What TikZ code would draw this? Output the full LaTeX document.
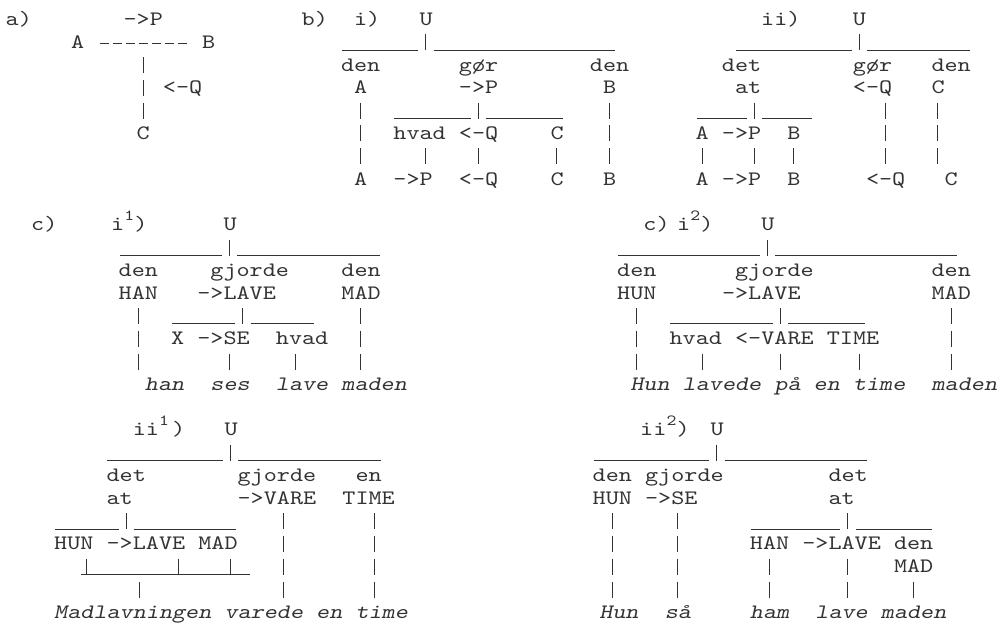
\documentclass[tikz,border=0pt]{standalone}
\usepackage{fontspec}
\setmonofont{lmmono10-regular.otf}[FakeStretch=1.2174,ItalicFont=lmmonoslant10-regular.otf]
\usetikzlibrary{calc}
\definecolor{ink}{gray}{0.2}
\newcommand\tfont{\ttfamily\fontsize{20.5}{22.8}\selectfont}
\newcommand\supfnt{\ttfamily\fontsize{15.5}{16}\selectfont}
\def\cw{13.1}\def\lh{22.8}\def\yz{25.5}
\newcommand\tW[4]{\node[T] (#1) at ({\ox+(#2)*\cw},{\yz+(#3)*\lh}) {#4};}
\newcommand\tWI[4]{\node[T,font=\tfont\itshape] (#1) at ({\ox+(#2)*\cw},{\yz+(#3)*\lh}) {#4};}
\newcommand\tWA[4]{\node[T] (#1) at ({#2},{\yz+(#3)*\lh}) {#4};}
\newcommand\tSUP[4]{\node[T,font=\supfnt] (#1) at ({#2},{\yz+(#3)*\lh-10}) {#4};}
\newcommand\tVB[3]{\draw[vbar] ($(#1.base west)+({(#2+0.5)*\cw},{\lh-14})$) -- ++(0,{(#3-1)*\lh+16});}
\newcommand\tVBu[3]{\draw[vbar] ($(#1.base west)+({(#2+0.5)*\cw},{2-\lh})$) -- ++(0,{-((#3-1)*\lh+16)});}
\newcommand\tUL[4]{\coordinate (#1a) at ({\ox+(#2)*\cw+1},{\yz+(#4)*\lh+2});
  \coordinate (#1b) at ({\ox+(#3+1)*\cw-1},{\yz+(#4)*\lh+2});
  \draw[ul] (#1a) -- (#1b);}
\begin{document}
\begin{tikzpicture}[x=1pt,y=-1pt,
  T/.style={font=\tfont, inner sep=0pt, anchor=base west, text=ink},
  vbar/.style={draw=ink, line width=1pt, dash pattern=on 16pt off 6.8pt},
  ul/.style={draw=ink, line width=1.1pt},
  hyph/.style={draw=ink, line width=1.3pt, dash pattern=on 9pt off 4.1pt}]
\fill[white] (0,0) rectangle (1004,623);
\useasboundingbox (0,0) rectangle (1004,623);

% ---------------- a)
\def\ox{5.5}
\tW{aLab}{0}{0}{a)}
\tW{aP}{9}{0}{->P}
\tW{aA}{5}{1}{A}
\tW{aB}{15}{1}{B}
\draw[hyph] ($(aA.base east)+({\cw+2},-5)$) -- ($(aB.base west)+({-\cw-2},-5)$);
\tW{aQ}{12}{3}{<-Q}
\tW{aC}{10}{5}{C}
\tVBu{aC}{0}{3}

% ---------------- b) i)
\def\ox{301.5}
\tW{bLab}{0}{0}{b)}
\tW{biLab}{4}{0}{i)}
\tW{biU}{9}{0}{U}
\tVB{biU}{0}{1}
\tUL{biLa}{3}{8}{1}
\tUL{biRa}{10}{23}{1}
\tW{biden1}{3}{2}{den}
\tW{bigor}{12}{2}{gør}
\tW{biden2}{22}{2}{den}
\tW{biA}{4}{3}{A}
\tW{biP}{12}{3}{->P}
\tW{biB}{23}{3}{B}
\tVB{biA}{0}{3}
\tVB{biP}{1}{1}
\tVB{biB}{0}{3}
\tUL{biLb}{7}{12}{4}
\tUL{biRb}{14}{19}{4}
\tW{bihvad}{7}{5}{hvad}
\tW{biQ}{12}{5}{<-Q}
\tW{biC}{19}{5}{C}
\tVB{bihvad}{2}{1}
\tVB{biQ}{1}{1}
\tVB{biC}{0}{1}
\tW{biA2}{4}{7}{A}
\tW{biP2}{7}{7}{->P}
\tW{biQ2}{12}{7}{<-Q}
\tW{biC2}{19}{7}{C}
\tW{biB2}{23}{7}{B}

% ---------------- b) ii)
\def\ox{695.5}
\tW{biiLab}{5}{0}{ii)}
\tW{biiU}{12}{0}{U}
\tVB{biiU}{0}{1}
\tUL{biiLa}{3}{11}{1}
\tUL{biiRa}{13}{20}{1}
\tW{biidet}{2}{2}{det}
\tW{biigor}{12}{2}{gør}
\tW{biiden}{18}{2}{den}
\tW{biiat}{3}{3}{at}
\tW{biiQ}{12}{3}{<-Q}
\tW{biiC}{18}{3}{C}
\tVB{biiat}{1}{1}
\tUL{biiLb}{0}{3}{4}
\tUL{biiRb}{5}{8}{4}
\tVB{biiQ}{2}{3}
\tVB{biiC}{0}{3}
\tW{biiA}{0}{5}{A}
\tW{biiP}{2}{5}{->P}
\tW{biiB}{7}{5}{B}
\tVB{biiA}{0}{1}
\tVB{biiP}{2}{1}
\tVB{biiB}{0}{1}
\tW{biiA2}{0}{7}{A}
\tW{biiP2}{2}{7}{->P}
\tW{biiB2}{7}{7}{B}
\tW{biiQ2}{13}{7}{<-Q}
\tW{biiC2}{19}{7}{C}

% ---------------- c) i1)
\def\ox{118.5}
\tWA{ciLab}{31}{9}{c)}
\tWA{ciI}{111}{9}{i}
\tSUP{ciS}{124.2}{9}{1}
\tWA{ciPar}{134.2}{9}{)}
\tW{ciU}{8}{9}{U}
\tVB{ciU}{0}{1}
\tUL{ciLa}{0}{7}{10}
\tUL{ciRa}{9}{19}{10}
\tW{cid1}{0}{11}{den}
\tW{cigj}{7}{11}{gjorde}
\tW{cid2}{17}{11}{den}
\tW{ciHAN}{0}{12}{HAN}
\tW{ciLAVE}{6}{12}{->LAVE}
\tW{ciMAD}{17}{12}{MAD}
\tVB{ciHAN}{1}{3}
\tVB{ciLAVE}{3}{1}
\tVB{ciMAD}{1}{3}
\tUL{ciLb}{4}{8}{13}
\tUL{ciRb}{10}{14}{13}
\tW{ciX}{4}{14}{X}
\tW{ciSE}{6}{14}{->SE}
\tW{cihvad}{12}{14}{hvad}
\tVB{ciSE}{2}{1}
\tVB{cihvad}{1}{1}
\tWI{cihan}{2}{16}{han}
\tWI{cises}{7}{16}{ses}
\tWI{cilave}{12}{16}{lave}
\tWI{cimaden}{17}{16}{maden}

% ---------------- c) i2)
\def\ox{617}
\tW{ciiLab}{2}{9}{c)}
\tWA{ciiI}{677}{9}{i}
\tSUP{ciiS}{690.2}{9}{2}
\tWA{ciiPar}{700.2}{9}{)}
\tW{ciiU}{11}{9}{U}
\tVB{ciiU}{0}{1}
\tUL{ciiLa}{0}{10}{10}
\tUL{ciiRa}{12}{25}{10}
\tW{ciid1}{0}{11}{den}
\tW{ciigj}{9}{11}{gjorde}
\tW{ciid2}{24}{11}{den}
\tW{ciiHUN}{0}{12}{HUN}
\tW{ciiLAVE}{8}{12}{->LAVE}
\tW{ciiMAD}{24}{12}{MAD}
\tVB{ciiHUN}{1}{3}
\tVB{ciiLAVE}{4}{1}
\tVB{ciiMAD}{1}{3}
\tUL{ciiLb}{4}{11}{13}
\tUL{ciiRb}{13}{18}{13}
\tW{ciihvad}{4}{14}{hvad}
\tW{ciiVARE}{9}{14}{<-VARE}
\tW{ciiTIME}{16}{14}{TIME}
\tVB{ciihvad}{2}{1}
\tVB{ciiVARE}{3}{1}
\tVB{ciiTIME}{2}{1}
\tWI{ciiHun}{1}{16}{Hun}
\tWI{ciilav}{5}{16}{lavede}
\tWI{ciipa}{12}{16}{på}
\tWI{ciien}{15}{16}{en}
\tWI{ciitime}{18}{16}{time}
\tWI{ciimaden}{24}{16}{maden}

% ---------------- ii1)
\def\ox{54}
\tW{iiaI}{6}{18}{ii}
\tSUP{iiaS}{158.9}{18}{1}
\tW{iiaPar}{9}{18}{)}
\tW{iiaU}{13}{18}{U}
\tVB{iiaU}{0}{1}
\tUL{iiaLa}{4}{12}{19}
\tUL{iiaRa}{14}{24}{19}
\tW{iiadet}{4}{20}{det}
\tW{iiagj}{14}{20}{gjorde}
\tW{iiaen}{23}{20}{en}
\tW{iiaat}{4}{21}{at}
\tW{iiaVARE}{14}{21}{->VARE}
\tW{iiaTIME}{22}{21}{TIME}
\tVB{iiaat}{1}{1}
\tUL{iiaLb}{0}{4}{22}
\tUL{iiaRb}{6}{13}{22}
\tVB{iiaVARE}{3}{4}
\tVB{iiaTIME}{2}{4}
\tW{iiaHUN}{0}{23}{HUN}
\tW{iiaLAVE}{4}{23}{->LAVE}
\tW{iiaMAD}{11}{23}{MAD}
\tVB{iiaHUN}{2}{1}
\tVB{iiaLAVE}{5}{1}
\tVB{iiaMAD}{2}{1}
\tUL{iiaLc}{2}{14}{24}
\tWI{iiaMadl}{0}{26}{Madlavningen}
\tWI{iiavar}{13}{26}{varede}
\tWI{iiaen2}{20}{26}{en}
\tWI{iiatime}{23}{26}{time}
\tVBu{iiaMadl}{6}{1}

% ---------------- ii2)
\def\ox{592.5}
\tWA{iibI}{640}{18}{ii}
\tSUP{iibS}{666.3}{18}{2}
\tWA{iibPar}{676.3}{18}{)}
\tW{iibU}{9}{18}{U}
\tVB{iibU}{0}{1}
\tUL{iibLa}{0}{8}{19}
\tUL{iibRa}{10}{20}{19}
\tW{iibden}{0}{20}{den}
\tW{iibgj}{4}{20}{gjorde}
\tW{iibdet}{18}{20}{det}
\tW{iibHUN}{0}{21}{HUN}
\tW{iibSE}{4}{21}{->SE}
\tW{iibat}{18}{21}{at}
\tVB{iibHUN}{1}{4}
\tVB{iibSE}{2}{4}
\tVB{iibat}{1}{1}
\tUL{iibLb}{12}{18}{22}
\tUL{iibRb}{20}{25}{22}
\tW{iibHAN}{12}{23}{HAN}
\tW{iibLAVE}{16}{23}{->LAVE}
\tW{iibden2}{23}{23}{den}
\tW{iibMAD}{23}{24}{MAD}
\tVB{iibHAN}{1}{2}
\tVB{iibLAVE}{3}{2}
\tVB{iibMAD}{1}{1}
\tWI{iibHun}{0.5}{26}{Hun}
\tWI{iibsa}{5.5}{26}{så}
\tWI{iibham}{12}{26}{ham}
\tWI{iiblave}{17}{26}{lave}
\tWI{iibmaden}{22}{26}{maden}
\end{tikzpicture}
\end{document}
